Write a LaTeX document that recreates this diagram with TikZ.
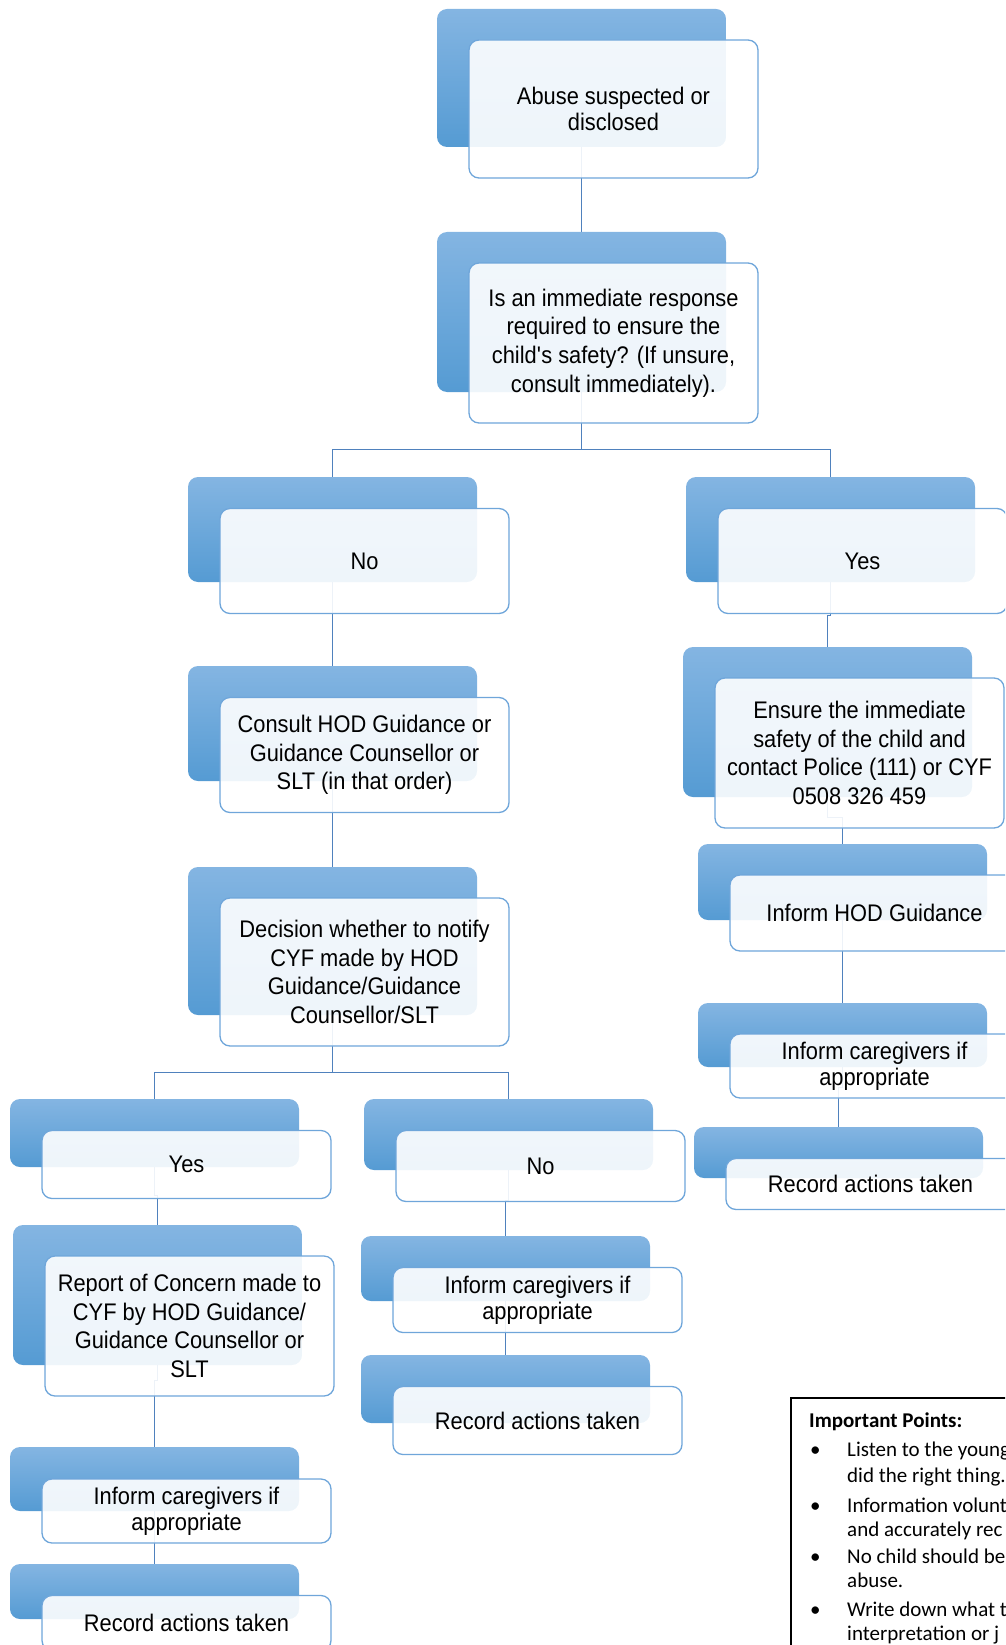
\documentclass[tikz,border=0pt]{standalone}
\usepackage{fontspec}
\setmainfont{Liberation Sans}[FakeStretch=0.91]
\newfontfamily\notefont{Carlito}
\usetikzlibrary{backgrounds}

\definecolor{boxtop}{HTML}{84B5E2}
\definecolor{boxbottom}{HTML}{559BD3}
\definecolor{boxline}{HTML}{6FA6DA}
\definecolor{linkcol}{HTML}{4F81BD}

\newcommand{\boxfont}{\fontsize{24}{28.7}\selectfont}
\newcommand{\pairfont}{\fontsize{24}{26.2}\selectfont}

\tikzset{
  backbox/.style={rectangle, rounded corners=10pt, minimum width=289pt,
    minimum height=#1, inner sep=0pt, top color=boxtop, bottom color=boxbottom},
  frontbox/.style={rectangle, rounded corners=10pt, minimum width=289pt,
    minimum height=#1, inner sep=0pt, draw=boxline, line width=1.3pt,
    fill=white, fill opacity=0.9, text opacity=1, align=center, font=\boxfont},
  pairbox/.style={frontbox=#1, font=\pairfont},
  link/.style={draw=linkcol, line width=1.3pt},
  notebox/.style={draw=black, line width=1.5pt, anchor=north west,
    minimum width=260pt, minimum height=300pt},
  notehead/.style={anchor=base west, inner sep=0pt, font=\notefont\bfseries\fontsize{21}{25}\selectfont},
  noteline/.style={anchor=base west, inner sep=0pt, font=\notefont\fontsize{21}{25}\selectfont},
}

\begin{document}
\begin{tikzpicture}[x=1pt,y=-1pt]
        \useasboundingbox (0,0) rectangle (1005,1645);
        \clip (0,0) rectangle (1005,1645);

        \node[backbox=138pt] (topb) at (581.5,78) {};
        \node[pairbox=138pt] (top) at (613.5,109) {Abuse suspected or\\disclosed};

        \node[backbox=160pt] (questb) at (581.5,312) {};
        \node[frontbox=160pt] (quest) at (613.5,343) {Is an immediate response\\required to ensure the\\child\textquotesingle s safety? (If unsure,\\consult immediately).};

        \node[backbox=105pt] (nob) at (332.5,529.5) {};
        \node[frontbox=105pt] (no) at (364.5,561) {No};

        \node[backbox=105pt] (yesb) at (830.5,529.5) {};
        \node[frontbox=105pt] (yes) at (862.5,561) {Yes};

        \node[backbox=115pt] (consultb) at (332.5,723.5) {};
        \node[frontbox=115pt] (consult) at (364.5,755) {Consult HOD Guidance or\\Guidance Counsellor or\\SLT (in that order)};

        \node[backbox=148pt] (decideb) at (332.5,941) {};
        \node[frontbox=148pt] (decide) at (364.5,972) {Decision whether to notify\\CYF made by HOD\\Guidance/Guidance\\Counsellor/SLT};

        \node[backbox=150pt] (ensureb) at (827.5,722) {};
        \node[frontbox=150pt] (ensure) at (859.5,753) {Ensure the immediate\\safety of the child and\\contact Police (111) or CYF\\0508 326 459};

        \node[backbox=76pt] (hodb) at (842.5,882) {};
        \node[frontbox=76pt] (hod) at (874.5,913) {Inform HOD Guidance};

        \node[backbox=64pt] (carerrb) at (842.5,1035) {};
        \node[pairbox=64pt] (carerr) at (874.5,1066) {Inform caregivers if\\appropriate};

        \node[backbox=51pt] (recordrb) at (838.5,1152.5) {};
        \node[frontbox=51pt] (recordr) at (870.5,1184) {Record actions taken};

        \node[backbox=68pt] (yeslb) at (154.5,1133) {};
        \node[frontbox=68pt] (yesl) at (186.5,1164.5) {Yes};

        \node[backbox=71pt] (nomb) at (508.5,1134.5) {};
        \node[frontbox=71pt] (nom) at (540.5,1166) {No};

        \node[backbox=140pt] (reportb) at (157.5,1295) {};
        \node[frontbox=140pt] (report) at (189.5,1326) {Report of Concern made to\\CYF by HOD Guidance/\\Guidance Counsellor or\\SLT};

        \node[backbox=64pt] (carerlb) at (154.5,1479) {};
        \node[pairbox=64pt] (carerl) at (186.5,1511) {Inform caregivers if\\appropriate};

        \node[backbox=55pt] (recordlb) at (154.5,1591.5) {};
        \node[frontbox=55pt] (recordl) at (186.5,1623) {Record actions taken};

        \node[backbox=65pt] (carermb) at (505.5,1268.5) {};
        \node[pairbox=65pt] (carerm) at (537.5,1300) {Inform caregivers if\\appropriate};

        \node[backbox=68pt] (recordmb) at (505.5,1389) {};
        \node[frontbox=68pt] (recordm) at (537.5,1420.5) {Record actions taken};

        \begin{pgfonlayer}{background}
        \draw[link] (topb.south) -- (questb.north);
        \draw[link] (questb.south) -- ++(0,57) -| (nob.north);
        \draw[link] (questb.south) -- ++(0,57) -| (yesb.north);
        \draw[link] (nob.south) -- (consultb.north);
        \draw[link] (consultb.south) -- (decideb.north);
        \draw[link] (yesb.south) -- ++(0,33) -| (ensureb.north);
        \draw[link] (ensureb.south) -- ++(0,20) -| (hodb.north);
        \draw[link] (hodb.south) -- (carerrb.north);
        \draw[link] (carerrb.south) -- ++(0,20) -| (recordrb.north);
        \draw[link] (decideb.south) -- ++(0,57) -| (yeslb.north);
        \draw[link] (decideb.south) -- ++(0,57) -| (nomb.north);
        \draw[link] (yeslb.south) -- ++(0,28) -| (reportb.north);
        \draw[link] (reportb.south) -- ++(0,15) -| (carerlb.north);
        \draw[link] (carerlb.south) -- (recordlb.north);
        \draw[link] (nomb.south) -- ++(0,30) -| (carermb.north);
        \draw[link] (carermb.south) -- (recordmb.north);
        \end{pgfonlayer}

        \node[notebox] (notes) at (790,1397) {};
        \node[notehead] (nhead) at (809,1427) {Important Points:};
        \node[noteline] (bul1) at (810,1456) {\textbullet};
        \node[noteline] (line1) at (847,1456) {Listen to the young};
        \node[noteline] (line2) at (847,1482) {did the right thing.};
        \node[noteline] (bul2) at (810,1512) {\textbullet};
        \node[noteline] (line3) at (847,1512) {Information volunt};
        \node[noteline] (line4) at (847,1536) {and accurately rec};
        \node[noteline] (bul3) at (810,1563) {\textbullet};
        \node[noteline] (line5) at (847,1563) {No child should be};
        \node[noteline] (line6) at (847,1587) {abuse.};
        \node[noteline] (bul4) at (810,1616) {\textbullet};
        \node[noteline] (line7) at (847,1616) {Write down what t};
        \node[noteline] (line8) at (847,1640) {interpretation or j};
\end{tikzpicture}
\end{document}
